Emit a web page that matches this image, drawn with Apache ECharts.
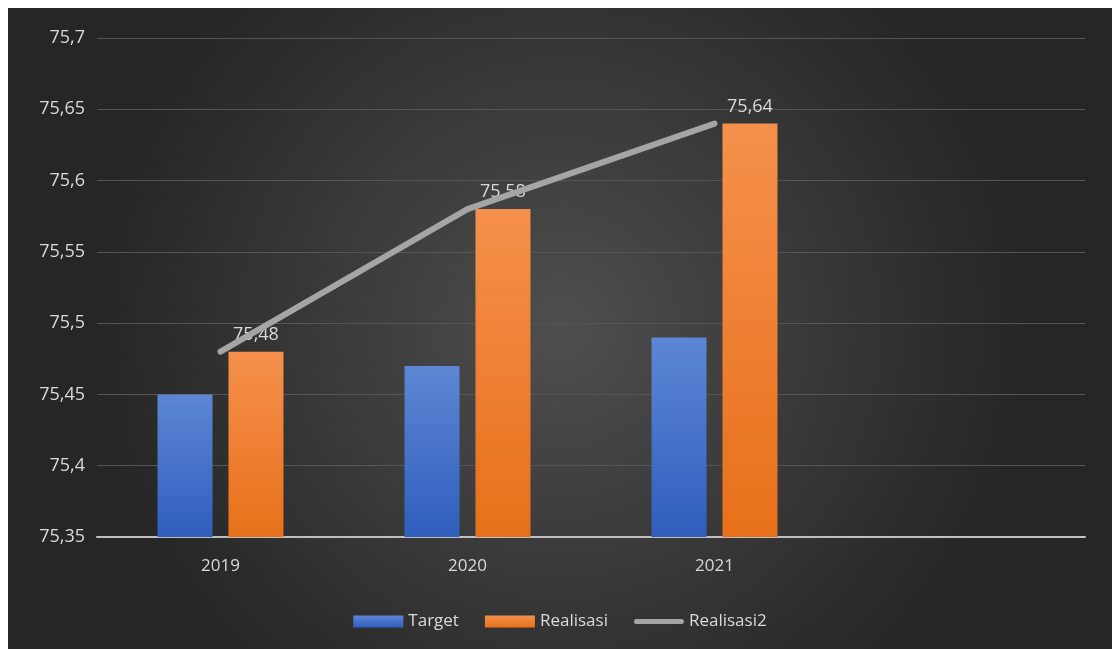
<!DOCTYPE html>
<html>
<head>
<meta charset="utf-8">
<script src="https://cdn.jsdelivr.net/npm/echarts@6/dist/echarts.min.js"></script>
<style>
  html, body { margin: 0; padding: 0; background: #ffffff; width: 1112px; height: 649px; overflow: hidden; }
  #chart { position: absolute; left: 8px; top: 8px; width: 1104px; height: 641px; }
</style>
</head>
<body>
<div id="chart"></div>
<script>
const categories = ['2019', '2020', '2021', ''];
const targetValues = [75.45, 75.47, 75.49, null];
const realisasiValues = [75.48, 75.58, 75.64, null];
const realisasi2Values = [75.48, 75.58, 75.64, null];
const yMin = 75.35, yMax = 75.7, yStep = 0.05;

const fmt = v => parseFloat(Number(v).toFixed(2)).toString().replace('.', ',');
const txt = '#d9d9d9';
const font = '"Open Sans", "Noto Sans", sans-serif';

const chart = echarts.init(document.getElementById('chart'));
chart.setOption({
  backgroundColor: {
    type: 'radial', x: 0.5, y: 0.5, r: 0.72,
    colorStops: [{ offset: 0, color: '#4e4e4e' }, { offset: 1, color: '#262626' }]
  },
  textStyle: { fontFamily: font },
  grid: { left: 89, right: 27, top: 30, bottom: 112, containLabel: false },
  legend: {
    bottom: 14, left: 'center', itemGap: 26, itemWidth: 50, itemHeight: 12,
    textStyle: { color: txt, fontSize: 17, fontFamily: font },
    data: [
      { name: 'Target', icon: 'rect' },
      { name: 'Realisasi', icon: 'rect' },
      { name: 'Realisasi2', icon: 'path://M2.5,0 h45 a2.5,2.5 0 0 1 0,5 h-45 a2.5,2.5 0 0 1 0,-5 z',
        itemStyle: { color: '#a5a5a5', borderWidth: 0 } }
    ]
  },
  xAxis: {
    type: 'category', data: categories,
    axisLine: { lineStyle: { color: '#bfbfbf', width: 2 } },
    axisTick: { show: false },
    axisLabel: { color: txt, fontSize: 17, margin: 21, fontFamily: font }
  },
  yAxis: {
    type: 'value', min: yMin, max: yMax, interval: yStep,
    axisLine: { show: false }, axisTick: { show: false },
    axisLabel: { color: txt, fontSize: 18, margin: 12, formatter: fmt, fontFamily: font },
    splitLine: { lineStyle: { color: '#555555', width: 1 } }
  },
  series: [
    {
      name: 'Target', type: 'bar', data: targetValues, barWidth: 55, barGap: '29%',
      itemStyle: { color: { type: 'linear', x: 0, y: 0, x2: 0, y2: 1,
        colorStops: [{ offset: 0, color: '#5d86d4' }, { offset: 1, color: '#2f5ebd' }] } }
    },
    {
      name: 'Realisasi', type: 'bar', data: realisasiValues, barWidth: 55,
      itemStyle: { color: { type: 'linear', x: 0, y: 0, x2: 0, y2: 1,
        colorStops: [{ offset: 0, color: '#f5904c' }, { offset: 1, color: '#e8701a' }] } },
      label: { show: true, position: 'top', distance: 8, color: txt, fontSize: 18, fontFamily: font,
        formatter: p => fmt(p.value) }
    },
    {
      name: 'Realisasi2', type: 'line', data: realisasi2Values, symbol: 'none', z: 5,
      lineStyle: { color: '#a5a5a5', width: 6, cap: 'round', join: 'round' },
      itemStyle: { color: '#a5a5a5' }
    }
  ]
});
</script>
</body>
</html>
